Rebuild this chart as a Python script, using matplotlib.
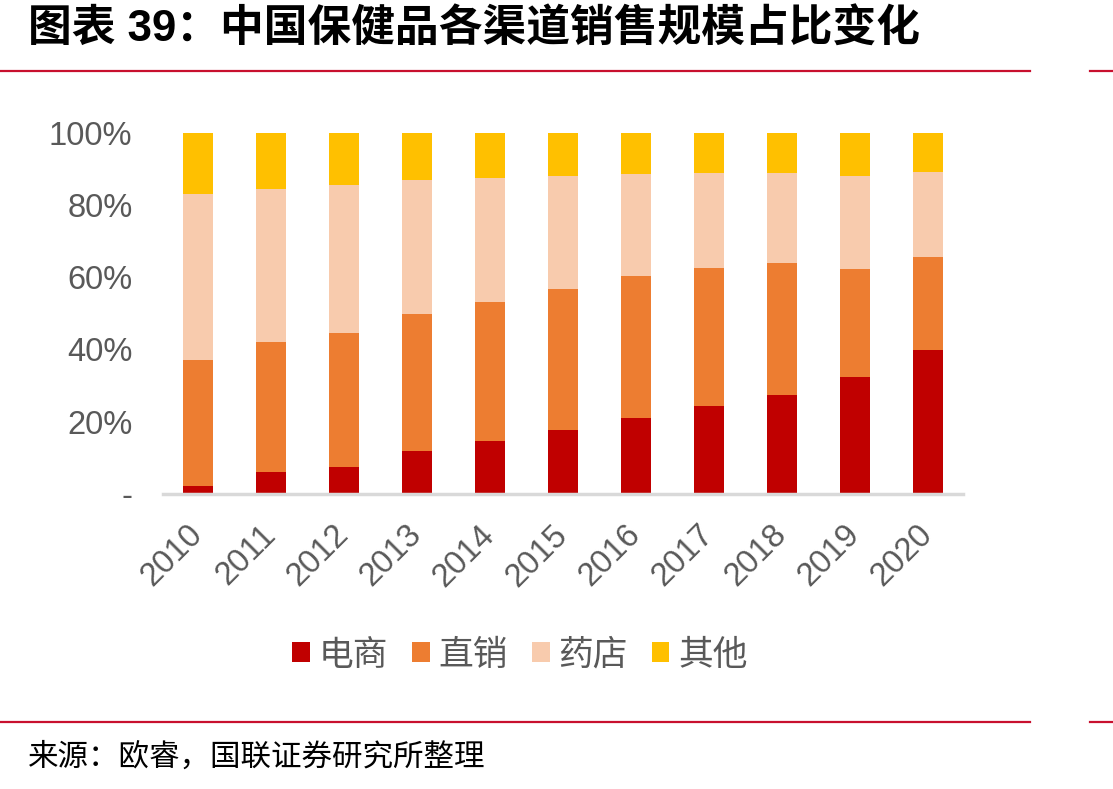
import matplotlib
matplotlib.use("Agg")
import matplotlib.pyplot as plt
from matplotlib.ticker import FuncFormatter
from matplotlib.lines import Line2D
import numpy as np

plt.rcParams['font.family'] = ['Liberation Sans', 'Noto Sans CJK SC', 'DejaVu Sans']

years = ['2010', '2011', '2012', '2013', '2014', '2015', '2016', '2017', '2018', '2019', '2020']
series_names = ['电商', '直销', '药店', '其他']
ecommerce = [2.2, 6.2, 7.6, 12.0, 14.8, 17.8, 21.1, 24.4, 27.5, 32.5, 39.9]
direct = [34.9, 35.9, 37.0, 37.9, 38.3, 39.0, 39.1, 38.2, 36.4, 29.8, 25.8]
pharmacy = [45.9, 42.3, 40.9, 37.1, 34.4, 31.2, 28.4, 26.2, 24.9, 25.8, 23.4]
other = [17.0, 15.6, 14.5, 13.0, 12.5, 12.0, 11.4, 11.2, 11.2, 11.9, 10.9]
colors = ['#C00000', '#ED7D31', '#F8CBAD', '#FFC000']

title = '图表 39：中国保健品各渠道销售规模占比变化'
source = '来源：欧睿，国联证券研究所整理'

fig = plt.figure(figsize=(11.13, 7.89), dpi=100)
ax = fig.add_axes([163 / 1113, 1 - 494 / 789, 800 / 1113, (494 - 132.7) / 789])

x = np.arange(len(years))
bottom = np.zeros(len(years))
for name, vals, c in zip(series_names, [ecommerce, direct, pharmacy, other], colors):
    ax.bar(x, vals, width=0.4, bottom=bottom, color=c, label=name, linewidth=0, zorder=2)
    bottom += np.array(vals)

ax.set_xlim(-0.48, len(years) - 0.52)
ax.set_ylim(0, 100)
ax.set_yticks([0, 20, 40, 60, 80, 100])
ax.yaxis.set_major_formatter(FuncFormatter(lambda v, p: '-' if v == 0 else f'{int(v)}%'))
ax.set_xticks(x)
ax.set_xticklabels(years, rotation=45, ha='right', va='center', rotation_mode='anchor')

for s in ['top', 'right', 'left']:
    ax.spines[s].set_visible(False)
ax.spines['bottom'].set_color('#D9D9D9')
ax.spines['bottom'].set_linewidth(2.5)
ax.spines['bottom'].set_zorder(3)
ax.tick_params(axis='both', length=0, labelsize=23.5, colors='#595959')
ax.tick_params(axis='y', pad=22)
ax.tick_params(axis='x', pad=26)

leg = fig.legend(loc='center', bbox_to_anchor=(520 / 1113, 1 - 655 / 789), ncol=4, frameon=False,
                 fontsize=25, handlelength=0.5, handleheight=0.5, handletextpad=0.25,
                 columnspacing=0.7)
for t in leg.get_texts():
    t.set_color('#595959')

fig.text(28 / 1113, 1 - 29 / 789, title, fontsize=31.5, fontweight='bold', color='black',
         ha='left', va='center', family=['Liberation Sans', 'Noto Sans CJK SC'])
fig.text(28 / 1113, 1 - 757 / 789, source, fontsize=22, color='black', ha='left', va='center',
         family=['Noto Sans CJK SC'])

red = '#C8102E'
for yy in [71, 722]:
    yf = 1 - yy / 789
    fig.add_artist(Line2D([0, 1030 / 1113], [yf, yf], color=red, lw=1.6, transform=fig.transFigure))
    fig.add_artist(Line2D([1090 / 1113, 1], [yf, yf], color=red, lw=1.6, transform=fig.transFigure))

fig.savefig('out.png', dpi=100)
